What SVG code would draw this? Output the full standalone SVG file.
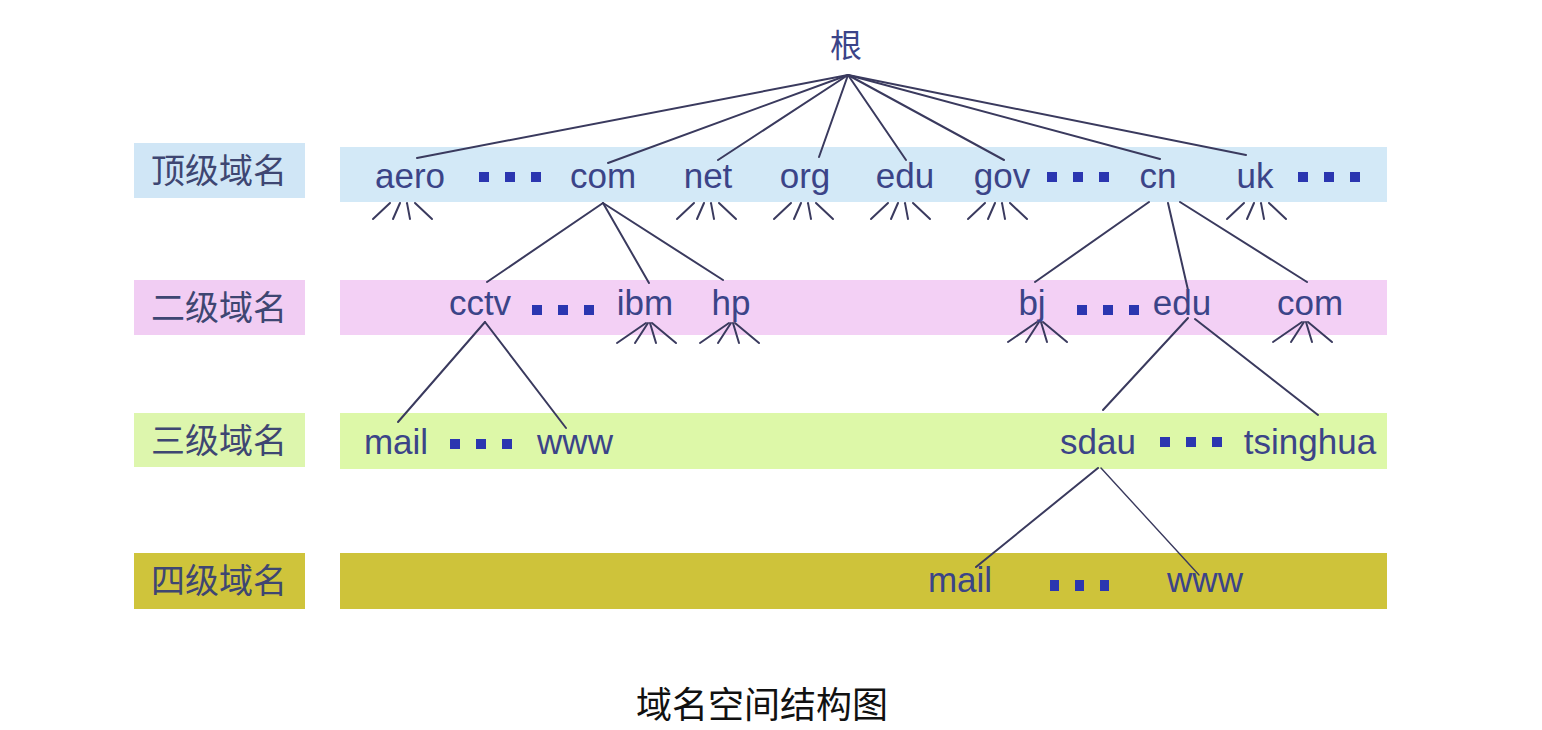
<svg xmlns="http://www.w3.org/2000/svg" xmlns:xlink="http://www.w3.org/1999/xlink" width="1542" height="730" viewBox="0 0 1542 730">
<style>
.t{font-family:"Liberation Sans",Arial,sans-serif;font-size:35px;fill:#3b4488;text-anchor:middle}
.lab{font-family:"Noto Sans CJK SC",sans-serif;font-size:34px;fill:#3e4672;text-anchor:middle}
.cap{font-family:"Noto Sans CJK SC",sans-serif;font-size:36px;fill:#111;text-anchor:middle}
.ln{stroke:#3a3a5e;stroke-width:2;fill:none;stroke-linecap:round}
.dot{fill:#2b36b0}
</style>
<defs>
<g id="fan1" class="ln"><line x1="-13" y1="0" x2="-30" y2="16"/><line x1="-3" y1="0" x2="-10" y2="16"/><line x1="4" y1="0" x2="7" y2="16"/><line x1="12" y1="0" x2="29" y2="16"/></g>
<g id="fan2" class="ln"><line x1="-3" y1="0" x2="-32" y2="20"/><line x1="-1" y1="0" x2="-14" y2="20"/><line x1="1" y1="0" x2="7" y2="20"/><line x1="3" y1="0" x2="27" y2="20"/></g>
<g id="dots"><rect class="dot" x="0" y="0" width="10" height="10"/><rect class="dot" x="26" y="0" width="10" height="10"/><rect class="dot" x="52" y="0" width="10" height="10"/></g>
</defs>
<rect width="1542" height="730" fill="#fff"/>
<g id="bands">
<rect x="134" y="143" width="171" height="55" fill="#d0e6f6"/>
<rect x="340" y="147" width="1047" height="55" fill="#d3e9f7"/>
<rect x="134" y="280" width="171" height="55" fill="#f1cdf3"/>
<rect x="340" y="280" width="1047" height="55" fill="#f3d0f5"/>
<rect x="134" y="413" width="171" height="54" fill="#ddf6ad"/>
<rect x="340" y="413" width="1047" height="56" fill="#ddf8a8"/>
<rect x="134" y="553" width="171" height="56" fill="#cfc43b"/>
<rect x="340" y="553" width="1047" height="56" fill="#cec33a"/>
</g>
<g id="labels">
<text class="lab" x="219" y="183">顶级域名</text>
<text class="lab" x="219" y="320">二级域名</text>
<text class="lab" x="219" y="453">三级域名</text>
<text class="lab" x="219" y="593">四级域名</text>
</g>
<g id="connectors">
<g class="ln">
<line x1="848" y1="75" x2="417" y2="158"/>
<line x1="848" y1="75" x2="608" y2="163"/>
<line x1="848" y1="75" x2="718" y2="160"/>
<line x1="848" y1="75" x2="819" y2="157"/>
<line x1="848" y1="75" x2="906" y2="160"/>
<line x1="848" y1="75" x2="1004" y2="160"/>
<line x1="848" y1="75" x2="1160" y2="159"/>
<line x1="848" y1="75" x2="1246" y2="155"/>
<line x1="603" y1="203" x2="487" y2="282"/>
<line x1="603" y1="203" x2="649" y2="283"/>
<line x1="603" y1="203" x2="723" y2="280"/>
<line x1="1149" y1="202" x2="1035" y2="282"/>
<line x1="1168" y1="203" x2="1188" y2="290"/>
<line x1="1180" y1="202" x2="1307" y2="282"/>
<line x1="485" y1="322" x2="398" y2="422"/>
<line x1="485" y1="322" x2="566" y2="428"/>
<line x1="1188" y1="318" x2="1103" y2="410"/>
<line x1="1195" y1="319" x2="1318" y2="415"/>
<line x1="1098" y1="468" x2="976" y2="567"/>
<line x1="1101" y1="468" x2="1199" y2="575" stroke-width="1.4"/>
</g>
<use xlink:href="#fan1" x="403" y="203"/>
<use xlink:href="#fan1" x="707" y="203"/>
<use xlink:href="#fan1" x="804" y="203"/>
<use xlink:href="#fan1" x="901" y="203"/>
<use xlink:href="#fan1" x="998" y="203"/>
<use xlink:href="#fan1" x="1257" y="203"/>
<use xlink:href="#fan2" x="649" y="323"/>
<use xlink:href="#fan2" x="732" y="323"/>
<use xlink:href="#fan2" x="1040" y="322"/>
<use xlink:href="#fan2" x="1305" y="322"/>
</g>
<g id="root"><text x="846" y="57" style="font-family:'Noto Sans CJK SC',sans-serif;font-size:32px;fill:#3b4488;text-anchor:middle">根</text></g>
<g id="n-aero"><text class="t" x="410" y="188">aero</text></g>
<use xlink:href="#dots" x="479" y="172"/>
<g id="n-com"><text class="t" x="603" y="188">com</text></g>
<g id="n-net"><text class="t" x="708" y="188">net</text></g>
<g id="n-org"><text class="t" x="805" y="188">org</text></g>
<g id="n-edu"><text class="t" x="905" y="188">edu</text></g>
<g id="n-gov"><text class="t" x="1002" y="188">gov</text></g>
<use xlink:href="#dots" x="1047" y="172"/>
<g id="n-cn"><text class="t" x="1158" y="188">cn</text></g>
<g id="n-uk"><text class="t" x="1255" y="188">uk</text></g>
<use xlink:href="#dots" x="1298" y="172"/>
<g id="n-cctv"><text class="t" x="480" y="315">cctv</text></g>
<use xlink:href="#dots" x="532" y="305"/>
<g id="n-ibm"><text class="t" x="645" y="315">ibm</text></g>
<g id="n-hp"><text class="t" x="731" y="315">hp</text></g>
<g id="n-bj"><text class="t" x="1032" y="315">bj</text></g>
<use xlink:href="#dots" x="1077" y="305"/>
<g id="n-edu2"><text class="t" x="1182" y="315">edu</text></g>
<g id="n-com2"><text class="t" x="1310" y="315">com</text></g>
<g id="n-mail3"><text class="t" x="396" y="454">mail</text></g>
<use xlink:href="#dots" x="450" y="439"/>
<g id="n-www3"><text class="t" x="575" y="454">www</text></g>
<g id="n-sdau"><text class="t" x="1098" y="454">sdau</text></g>
<use xlink:href="#dots" x="1160" y="437"/>
<g id="n-tsinghua"><text class="t" x="1310" y="454">tsinghua</text></g>
<g id="n-mail4"><text class="t" x="960" y="592">mail</text></g>
<g id="dots4"><rect class="dot" x="1050" y="580" width="9" height="11"/><rect class="dot" x="1075" y="580" width="9" height="11"/><rect class="dot" x="1100" y="580" width="9" height="11"/></g>
<g id="n-www4"><text class="t" x="1205" y="592">www</text></g>
<text class="cap" x="762" y="718">域名空间结构图</text>
</svg>
